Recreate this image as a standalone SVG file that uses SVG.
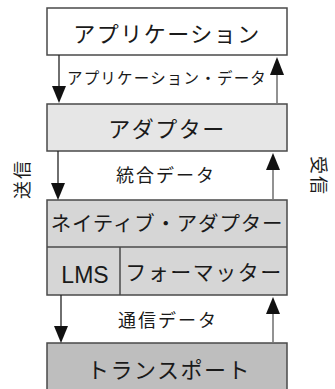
<svg xmlns="http://www.w3.org/2000/svg" width="335" height="389" viewBox="0 0 335 389">
<style>
.box{stroke:#4a4a4a;stroke-width:1.5}
.t{font-family:"Noto Sans CJK JP","Noto Sans",sans-serif;fill:#1a1a1a;text-anchor:middle}
.big{font-size:22px;letter-spacing:1.5px}
.mid{font-size:18px;letter-spacing:2px}
.sm{font-size:15.5px;letter-spacing:1.2px}
.dn{stroke:#222;stroke-width:1.3;fill:none}
.up{stroke:#777;stroke-width:1.6;fill:none}
.head{fill:#111}
</style>
<rect width="335" height="389" fill="#fff"/>
<g id="application">
<rect class="box" x="47" y="8" width="240" height="47" fill="#fff"/>
<text class="t big" x="167" y="42">アプリケーション</text>
</g>
<g id="adapter">
<rect class="box" x="47" y="104" width="240" height="47" fill="#e6e6e6"/>
<text class="t big" x="167" y="137">アダプター</text>
</g>
<g id="native">
<rect class="box" x="47" y="200" width="240" height="95" fill="#d6d6d6"/>
<line class="box" x1="47" y1="247" x2="287" y2="247"/>
<line class="box" x1="120" y1="247" x2="120" y2="295"/>
<text class="t" x="167" y="231" style="font-size:20.5px;letter-spacing:0.8px">ネイティブ・アダプター</text>
<text class="t" x="85" y="283" style="font-family:'Liberation Sans',Arial,sans-serif;font-size:23px">LMS</text>
<text class="t" x="204" y="280" style="font-size:21px;letter-spacing:1.5px">フォーマッター</text>
</g>
<g id="transport">
<rect class="box" x="47" y="343" width="240" height="50" fill="#bebebe"/>
<text class="t big" x="169" y="378">トランスポート</text>
</g>
<g id="connectors">
<line class="dn" x1="59" y1="55" x2="59" y2="90"/>
<polygon class="head" points="52,86 66,86 59,103"/>
<line class="up" x1="277" y1="104" x2="277" y2="70"/>
<polygon class="head" points="270,75 284,75 277,57"/>
<line class="dn" x1="58" y1="151" x2="58" y2="186"/>
<polygon class="head" points="51,183 65,183 58,200"/>
<line class="up" x1="273" y1="200" x2="273" y2="166"/>
<polygon class="head" points="266,170 280,170 273,153"/>
<line class="dn" x1="61" y1="295" x2="61" y2="330"/>
<polygon class="head" points="54,326 68,326 61,343"/>
<line class="up" x1="273" y1="343" x2="273" y2="310"/>
<polygon class="head" points="266,314 280,314 273,297"/>
</g>
<g id="labels">
<text class="t sm" x="167" y="84">アプリケーション・データ</text>
<text class="t mid" x="166" y="182">統合データ</text>
<text class="t mid" x="168" y="327">通信データ</text>
<text class="t mid" transform="translate(29,179) rotate(-90)" x="0" y="0">送信</text>
<text class="t mid" transform="translate(312,176) rotate(90)" x="0" y="0">受信</text>
</g>
</svg>
